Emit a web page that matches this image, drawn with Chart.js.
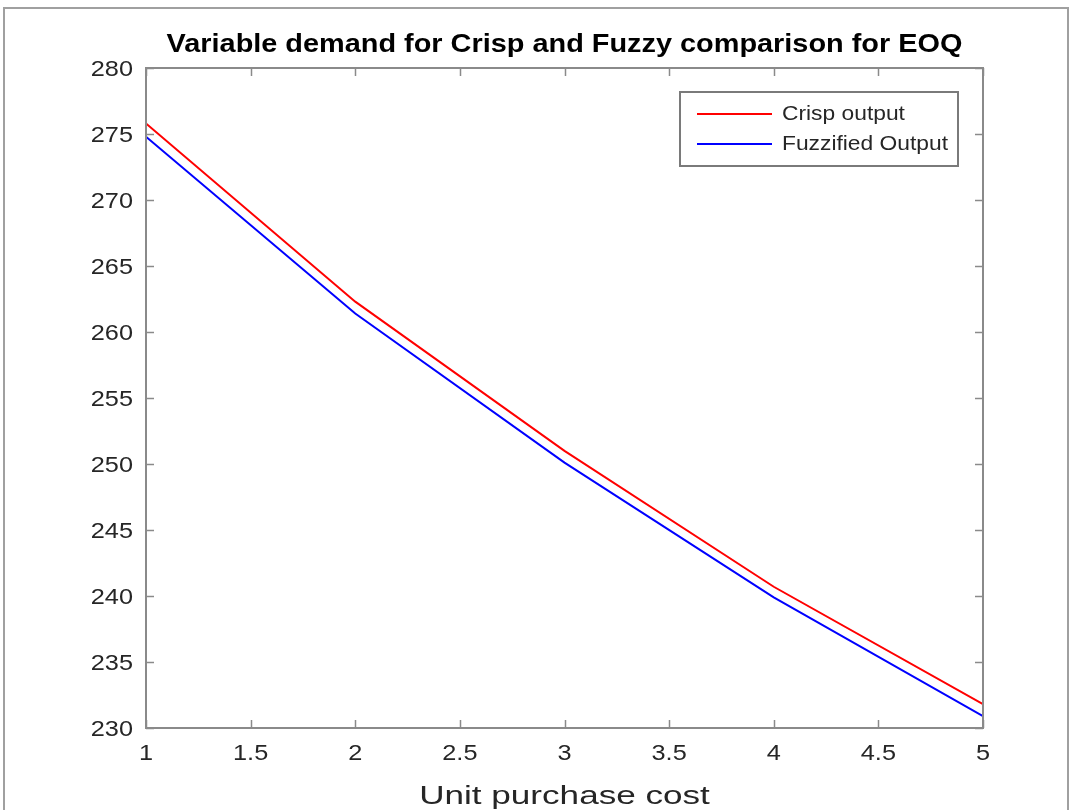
<!DOCTYPE html>
<html>
<head>
<meta charset="utf-8">
<script src="https://cdn.jsdelivr.net/npm/chart.js@4.4.1/dist/chart.umd.min.js"></script>
<style>
  html, body { margin: 0; padding: 0; background: #fff; }
  #wrap { position: relative; width: 1074px; height: 810px; }
  #frame { position: absolute; left: 3px; top: 7px; width: 1066px; height: 810px;
           border: 2px solid #a0a0a0; border-bottom: none; box-sizing: border-box; }
  canvas { position: absolute; left: 0; top: 0; }
</style>
</head>
<body>
<div id="wrap">
  <div id="frame"></div>
  <canvas id="chart" width="1074" height="810"></canvas>
</div>
<script>
// values
const unitCost = [1, 2, 3, 4, 5]
const crispOutput = [275.8, 262.3, 251.0, 240.7, 231.8]
const fuzzyOutput = [274.8, 261.4, 250.1, 239.9, 230.9]
const seriesNames = ["Crisp output", "Fuzzified Output"]
const seriesColors = ["#ff0000", "#0000ff"]
const chartTitle = "Variable demand for Crisp and Fuzzy comparison for EOQ"
const xTitle = "Unit purchase cost"

const font = "'Liberation Sans', Arial, Helvetica, sans-serif"
const axisColor = "#8a8a8a"
const textColor = "#262626"

// the matlab export is stretched sideways, so text gets a horizontal scale
drawText = (ctx, text, x, y, align, sx) => {
	ctx.save()
	ctx.translate(x, y)
	ctx.scale(sx, 1)
	ctx.textAlign = align
	ctx.textBaseline = "middle"
	ctx.fillText(text, 0, 0)
	ctx.restore()
}

// matlab style box with inward ticks on all four sides, plus tick labels and titles
const boxPlugin = {
	id: "box",
	afterDatasetsDraw: (chart) => {
		const ctx = chart.ctx
		const a = chart.chartArea
		const xs = chart.scales.x, ys = chart.scales.y
		ctx.save()
		ctx.strokeStyle = axisColor
		ctx.lineWidth = 2
		ctx.strokeRect(a.left, a.top, a.right - a.left, a.bottom - a.top)
		ctx.lineWidth = 1.5
		ctx.beginPath()
		xs.ticks.forEach(t => {
			const px = Math.round(xs.getPixelForValue(t.value)) + 0.5
			ctx.moveTo(px, a.bottom); ctx.lineTo(px, a.bottom - 8)
			ctx.moveTo(px, a.top); ctx.lineTo(px, a.top + 8)
		})
		ys.ticks.forEach(t => {
			const py = Math.round(ys.getPixelForValue(t.value)) + 0.5
			ctx.moveTo(a.left, py); ctx.lineTo(a.left + 8, py)
			ctx.moveTo(a.right, py); ctx.lineTo(a.right - 8, py)
		})
		ctx.stroke()

		ctx.fillStyle = textColor
		ctx.font = "22px " + font
		xs.ticks.forEach(t => {
			drawText(ctx, String(t.value), xs.getPixelForValue(t.value), a.bottom + 26, "center", 1.15)
		})
		ys.ticks.forEach(t => {
			drawText(ctx, String(t.value), a.left - 13, ys.getPixelForValue(t.value) + 2, "right", 1.15)
		})
		ctx.font = "26px " + font
		drawText(ctx, xTitle, (a.left + a.right) / 2, 797, "center", 1.35)
		ctx.fillStyle = "#000"
		ctx.font = "bold 25px " + font
		drawText(ctx, chartTitle, (a.left + a.right) / 2, 45, "center", 1.155)
		ctx.restore()
	}
}

// legend box in the top right corner of the axes
const legendPlugin = {
	id: "boxLegend",
	afterDatasetsDraw: (chart) => {
		const ctx = chart.ctx
		const a = chart.chartArea
		const x0 = a.right - 303, y0 = a.top + 24, w = 278, h = 74
		ctx.save()
		ctx.fillStyle = "#fff"
		ctx.fillRect(x0, y0, w, h)
		ctx.strokeStyle = "#7a7a7a"
		ctx.lineWidth = 2
		ctx.strokeRect(x0, y0, w, h)
		ctx.font = "20px " + font
		chart.data.datasets.forEach((ds, i) => {
			const y = y0 + 22 + i * 30
			ctx.strokeStyle = ds.borderColor
			ctx.lineWidth = 2
			ctx.beginPath()
			ctx.moveTo(x0 + 17, y); ctx.lineTo(x0 + 92, y)
			ctx.stroke()
			ctx.fillStyle = textColor
			drawText(ctx, ds.label, x0 + 102, y, "left", 1.14)
		})
		ctx.restore()
	}
}

const toPoints = (ys) => unitCost.map((x, i) => ({x: x, y: ys[i]}))

new Chart(document.getElementById("chart"), {
	type: "line",
	data: {
		datasets: [
			{label: seriesNames[0], data: toPoints(crispOutput), borderColor: seriesColors[0], borderWidth: 2, pointRadius: 0, tension: 0, fill: false},
			{label: seriesNames[1], data: toPoints(fuzzyOutput), borderColor: seriesColors[1], borderWidth: 2, pointRadius: 0, tension: 0, fill: false}
		]
	},
	options: {
		responsive: false,
		devicePixelRatio: 1,
		animation: false,
		layout: {padding: {left: 0, right: 91, top: 68, bottom: 0}},
		plugins: {
			legend: {display: false},
			tooltip: {enabled: false},
			title: {display: false}
		},
		scales: {
			x: {
				type: "linear", min: 1, max: 5,
				ticks: {stepSize: 0.5, display: false},
				grid: {display: false},
				border: {display: false},
				afterFit: (s) => { s.height = 82 }
			},
			y: {
				min: 230, max: 280,
				ticks: {stepSize: 5, display: false},
				grid: {display: false},
				border: {display: false},
				afterFit: (s) => { s.width = 146 }
			}
		}
	},
	plugins: [boxPlugin, legendPlugin]
})
</script>
</body>
</html>
